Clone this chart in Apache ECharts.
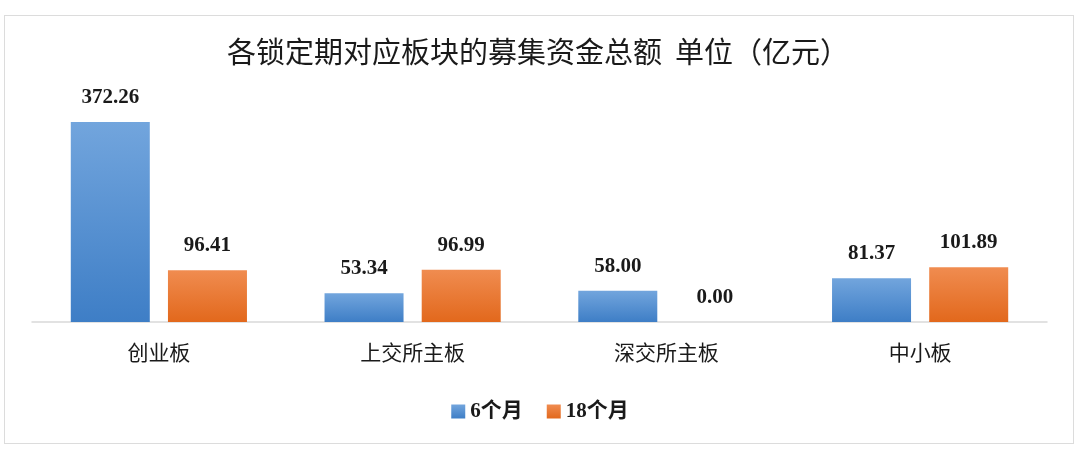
<!DOCTYPE html>
<html><head><meta charset="utf-8">
<script src="https://cdn.jsdelivr.net/npm/echarts@6/dist/echarts.min.js"></script>
<style>
html,body{margin:0;padding:0;background:#fff;}
#frame{position:absolute;left:4px;top:15px;width:1070px;height:429px;border:1px solid #dcdcdc;box-sizing:border-box;}
#c{position:absolute;left:0;top:0;width:1080px;height:465px;}
</style></head>
<body>
<div id="frame"></div>
<div id="c"></div>
<script>
var categories = ['创业板', '上交所主板', '深交所主板', '中小板'];
var sixMonths = [372.26, 53.34, 58.00, 81.37];
var eighteenMonths = [96.41, 96.99, 0.00, 101.89];
var seriesNames = ['6个月', '18个月'];

var chart = echarts.init(document.getElementById('c'));
function grad(top, bottom){
  return new echarts.graphic.LinearGradient(0,0,0,1,[{offset:0,color:top},{offset:1,color:bottom}]);
}
var labelStyle = {show:true, position:'top', distance:14, fontFamily:'Liberation Serif', fontWeight:'bold', fontSize:21, color:'#1a1a1a', formatter:function(p){return p.value.toFixed(2);}};
chart.setOption({
  animation:false,
  title:{text:'各锁定期对应板块的募集资金总额  单位（亿元）', left:533, top:32, textAlign:'center',
    textStyle:{fontFamily:'Noto Sans CJK SC', fontWeight:'normal', fontSize:29, color:'#1a1a1a'}},
  legend:{data:seriesNames, left:'center', top:396, itemWidth:14, itemHeight:14, itemGap:24,
    icon:'rect',
    textStyle:{fontFamily:'Liberation Serif, Noto Sans CJK SC', fontWeight:'bold', fontSize:21, color:'#1a1a1a'}},
  grid:{left:32, right:33, top:107, bottom:143},
  xAxis:{type:'category', data:categories,
    axisLine:{lineStyle:{color:'#d9d9d9', width:1.5}}, axisTick:{show:false},
    axisLabel:{margin:20, fontFamily:'Noto Sans CJK SC', fontSize:21, color:'#1a1a1a'}},
  yAxis:{type:'value', min:0, max:400, show:false, splitLine:{show:false}},
  series:[
    {name:seriesNames[0], type:'bar', data:sixMonths, barWidth:79, barGap:'23%',
     itemStyle:{color:grad('#72a5dd','#3e7ec6')}, label:labelStyle},
    {name:seriesNames[1], type:'bar', data:eighteenMonths, barWidth:79,
     itemStyle:{color:grad('#f08c50','#e2681c')}, label:labelStyle}
  ]
});
</script>
</body></html>
